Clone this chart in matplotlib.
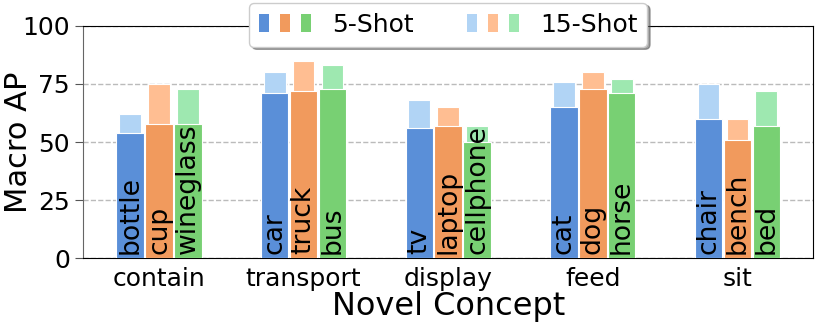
import matplotlib
matplotlib.use("Agg")
import matplotlib.pyplot as plt
import numpy as np
from matplotlib.patches import Patch
from matplotlib.legend_handler import HandlerTuple

concepts = ["contain", "transport", "display", "feed", "sit"]
objects = [["bottle", "cup", "wineglass"],
           ["car", "truck", "bus"],
           ["tv", "laptop", "cellphone"],
           ["cat", "dog", "horse"],
           ["chair", "bench", "bed"]]
shot5 = [[54, 58, 58], [71, 72, 73], [56, 57, 50], [65, 73, 71], [60, 51, 57]]
shot15 = [[62, 75, 73], [80, 85, 83], [68, 65, 57], [76, 80, 77], [75, 60, 72]]

dark = ["#5a8fd8", "#f19a5d", "#78d073"]
light = ["#b1d4f5", "#ffbe92", "#9ee8b0"]

fig = plt.figure(figsize=(8.3, 3.23), dpi=100)
ax = fig.add_axes([0.1, 0.2, 0.88, 0.72])

x = np.arange(len(concepts))
offsets = [-0.2, 0.0, 0.2]
ax.yaxis.grid(True, linestyle="--", color="#bbbbbb", linewidth=1)
ax.set_axisbelow(True)
for j in range(3):
    v5 = [row[j] for row in shot5]
    v15 = [row[j] for row in shot15]
    ax.bar(x + offsets[j], v15, width=0.15, color=light[j], edgecolor="white", linewidth=0.8, zorder=2)
    ax.bar(x + offsets[j], v5, width=0.19, color=dark[j], edgecolor="white", linewidth=0.8, zorder=3)
    for i in range(len(concepts)):
        ax.text(x[i] + offsets[j], 1.8, objects[i][j], rotation=90, ha="center", va="bottom",
                fontsize=19.2, color="black", zorder=4)

ax.set_xlim(-0.526, 4.526)
ax.set_ylim(0, 100)
ax.set_yticks([0, 25, 50, 75, 100])
ax.set_xticks(x)
ax.set_xticklabels(concepts, fontsize=18)
ax.tick_params(axis="y", labelsize=18, length=6, color="#555555")
ax.tick_params(axis="x", length=0, pad=6)
ax.spines["left"].set_color("#666666")
ax.set_ylabel("Macro AP", fontsize=22)
ax.yaxis.set_label_coords(-0.068, 0.5)
ax.set_xlabel("Novel Concept", fontsize=23, labelpad=0)

h5 = tuple(Patch(facecolor=c, edgecolor="none") for c in dark)
h15 = tuple(Patch(facecolor=c, edgecolor="none") for c in light)
leg = fig.legend([h5, h15], ["5-Shot", "15-Shot"], ncol=2, loc="upper center",
                 bbox_to_anchor=(0.54, 1.0), bbox_transform=fig.transFigure,
                 handler_map={tuple: HandlerTuple(ndivide=None, pad=0.44)},
                 handlelength=2.08, handletextpad=0.85, columnspacing=2.1,
                 fontsize=18, frameon=True, shadow=True, fancybox=True,
                 borderaxespad=0.1, framealpha=1)
leg.get_frame().set_edgecolor("#cccccc")
fig.savefig("out.png", dpi=100)
